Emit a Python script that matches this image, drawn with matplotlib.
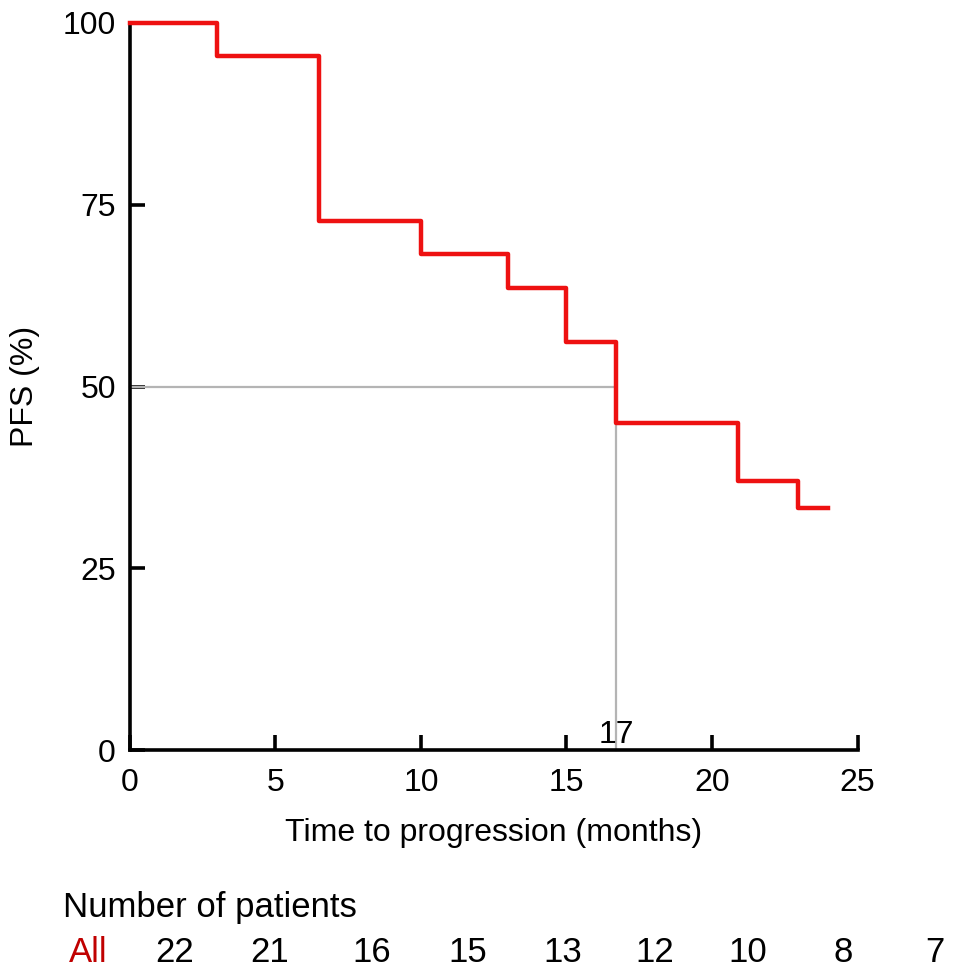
import matplotlib.pyplot as plt

# Kaplan-Meier step data
times = [0, 3.0, 6.5, 10.0, 13.0, 15.0, 16.7, 20.9, 22.95, 24.0]
pfs = [100, 95.5, 72.7, 68.2, 63.6, 56.1, 45.0, 37.0, 33.3, 33.3]

median_time = 16.7
median_label = "17"

at_risk_label = "All"
at_risk = [22, 21, 16, 15, 13, 12, 10, 8, 7]

plt.rcParams["font.family"] = ["Liberation Sans", "DejaVu Sans"]

fig = plt.figure(figsize=(9.69, 9.77), dpi=100)
ax = fig.add_axes([0.134, 0.2323, 0.751, 0.7442])

# median guide lines
ax.plot([0, median_time], [50, 50], color="#b4b4b4", lw=1.6, zorder=2, clip_on=False)
ax.plot([median_time, median_time], [0, 50], color="#b4b4b4", lw=1.6, zorder=2, clip_on=False)

ax.step(times, pfs, where="post", color="#ee1111", lw=3.2, zorder=3, clip_on=False)

ax.text(median_time, 0.0, median_label, ha="center", va="bottom", fontsize=23)

ax.set_xlim(0, 25)
ax.set_ylim(0, 100)
ax.set_xticks([0, 5, 10, 15, 20, 25])
ax.set_yticks([0, 25, 50, 75, 100])
ax.tick_params(direction="in", length=11, width=2.6, labelsize=23)
ax.tick_params(axis="x", pad=13)
ax.tick_params(axis="y", pad=10)
for side in ("top", "right"):
    ax.spines[side].set_visible(False)
for side in ("left", "bottom"):
    ax.spines[side].set_linewidth(2.6)
ax.set_xlabel("Time to progression (months)", fontsize=23, labelpad=14)
ax.set_ylabel("PFS (%)", fontsize=23, labelpad=16)

# number at risk table
fig.text(63 / 969, 1 - 908 / 977, "Number of patients", fontsize=25, va="center", ha="left")
xs = [88, 175, 270, 372, 468, 563, 655, 748, 843, 935]
fig.text(xs[0] / 969, 1 - 952 / 977, at_risk_label, color="#c00000", fontsize=25,
         va="center", ha="center")
for px, n in zip(xs[1:], at_risk):
    fig.text(px / 969, 1 - 952 / 977, str(n), fontsize=25, va="center", ha="center")

fig.savefig("out.png", dpi=100)
